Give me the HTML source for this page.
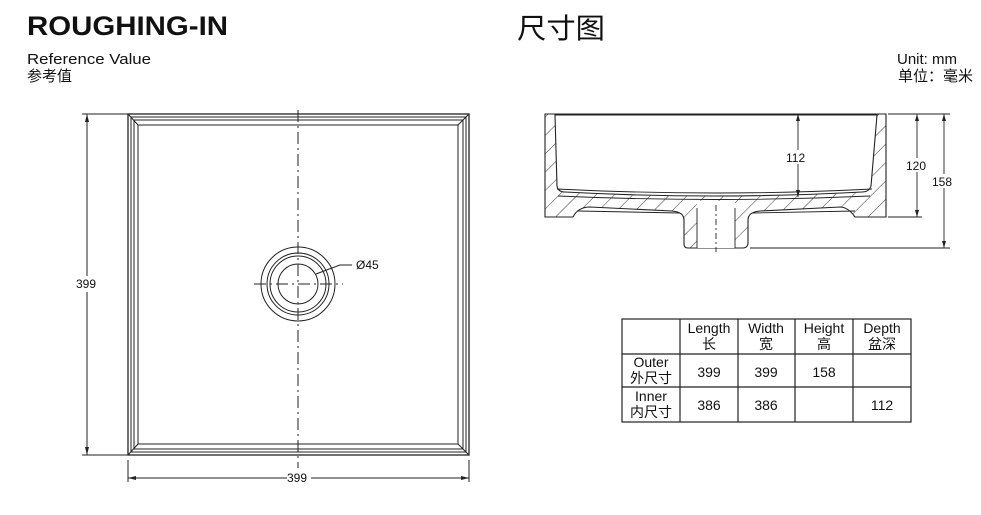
<!DOCTYPE html>
<html><head><meta charset="utf-8"><style>
body{margin:0;background:#fff}
svg{display:block}
text{font-family:"Liberation Sans","Noto Sans CJK SC",sans-serif;fill:#111}
</style></head><body>
<svg width="981" height="515" viewBox="0 0 981 515" xmlns="http://www.w3.org/2000/svg">
<defs>
<pattern id="h" width="13" height="13" patternUnits="userSpaceOnUse" patternTransform="rotate(45)">
<rect width="13" height="13" fill="#fff"/><line x1="0" y1="0" x2="0" y2="13" stroke="#222" stroke-width="0.9"/>
</pattern>
</defs>
<text x="27" y="35" font-size="27" font-weight="bold" textLength="201" lengthAdjust="spacingAndGlyphs">ROUGHING-IN</text>
<text x="517" y="38" font-size="28" textLength="88" lengthAdjust="spacingAndGlyphs">尺寸图</text>
<text x="27" y="64" font-size="15" textLength="124" lengthAdjust="spacingAndGlyphs">Reference Value</text>
<text x="27" y="81" font-size="15">参考值</text>
<text x="957" y="64" font-size="15" text-anchor="end">Unit: mm</text>
<text x="973" y="81" font-size="15" text-anchor="end">单位：毫米</text>

<g fill="none" stroke="#222" stroke-width="1">
<rect x="128" y="114" width="341" height="341" stroke-width="1.3"/>
<rect x="131" y="117" width="335" height="335"/>
<rect x="134" y="120" width="329" height="329"/>
<rect x="138" y="125" width="320" height="319"/>
<line x1="128" y1="114" x2="138" y2="125"/><line x1="469" y1="114" x2="458" y2="125"/>
<line x1="128" y1="455" x2="138" y2="444"/><line x1="469" y1="455" x2="458" y2="444"/>
<circle cx="298" cy="284" r="37"/><circle cx="298" cy="284" r="31"/><circle cx="298" cy="284" r="28"/><circle cx="298" cy="284" r="20"/>
<line x1="298" y1="110" x2="298" y2="468" stroke-dasharray="12,4,2,4"/>
<line x1="254" y1="284" x2="343" y2="284" stroke-dasharray="12,4,2,4"/>
<path d="M316 274 L340 265 L352 265"/>
<line x1="87" y1="114" x2="87" y2="455"/>
<line x1="82" y1="114" x2="128" y2="114"/><line x1="82" y1="455" x2="128" y2="455"/>
<line x1="128" y1="460" x2="128" y2="482"/><line x1="469" y1="460" x2="469" y2="482"/>
<line x1="128" y1="478" x2="287" y2="478"/><line x1="311" y1="478" x2="469" y2="478"/>
</g>
<g fill="#222">
<path d="M87 114 l-2 8 h4z"/><path d="M87 455 l-2 -8 h4z"/>
<path d="M128 478 l8 -2 v4z"/><path d="M469 478 l-8 -2 v4z"/>
</g>
<rect x="76" y="276" width="24" height="16" fill="#fff"/>
<text x="76" y="288" font-size="12">399</text>
<text x="287" y="482" font-size="12">399</text>
<text x="356" y="269" font-size="12">Ø45</text>

<g stroke="#222" stroke-width="1.1">
<path d="M545 114 L886 114 L886 217 L855 217 Q848 207 840 207 L760 211 Q748 212 748 220 L748 244 Q747 248 743 248 L688 248 Q684 248 684 244 L684 220 Q684 212 672 211 L590 207 Q578 207 573 217 L545 217 Z" fill="url(#h)"/>
<path d="M555 115 L877 115 L871 186 Q869 192 862 192 Q715 200 565 192 Q558 192 557 186 Z" fill="#fff"/>
<rect x="697" y="201" width="38" height="47" fill="#fff" stroke="none"/>
</g>
<g fill="none" stroke="#222" stroke-width="0.9">
<line x1="697" y1="208" x2="697" y2="248"/><line x1="735" y1="208" x2="735" y2="248"/>
<path d="M557 189 Q715 197 872 189"/>
<path d="M558 196 Q715 203 870 196"/>
<line x1="578" y1="211" x2="680" y2="213"/><line x1="752" y1="213" x2="855" y2="211"/>
<line x1="716" y1="205" x2="716" y2="252" stroke-dasharray="6,3,2,3"/>
<line x1="798" y1="114" x2="798" y2="197"/>
<line x1="888" y1="114" x2="950" y2="114"/><line x1="888" y1="217" x2="922" y2="217"/><line x1="750" y1="248" x2="950" y2="248"/>
<line x1="917" y1="114" x2="917" y2="217"/><line x1="944" y1="114" x2="944" y2="248"/>
</g>
<g fill="#222">
<path d="M798 114 l-2 7 h4z"/><path d="M798 197 l-2 -7 h4z"/>
<path d="M917 114 l-2 7 h4z"/><path d="M917 217 l-2 -7 h4z"/>
<path d="M944 114 l-2 7 h4z"/><path d="M944 248 l-2 -7 h4z"/>
</g>
<rect x="785" y="150" width="24" height="14" fill="#fff"/>
<text x="786" y="162" font-size="12">112</text>
<rect x="905" y="158" width="24" height="14" fill="#fff"/>
<text x="906" y="170" font-size="12">120</text>
<rect x="932" y="174" width="24" height="14" fill="#fff"/>
<text x="932" y="186" font-size="12">158</text>

<g fill="none" stroke="#222" stroke-width="1.2">
<rect x="622" y="319" width="289" height="103"/>
<line x1="680" y1="319" x2="680" y2="422"/><line x1="738" y1="319" x2="738" y2="422"/>
<line x1="795" y1="319" x2="795" y2="422"/><line x1="853" y1="319" x2="853" y2="422"/>
<line x1="622" y1="354" x2="911" y2="354"/><line x1="622" y1="387" x2="911" y2="387"/>
</g>
<g font-size="14" text-anchor="middle">
<text x="709" y="333">Length</text><text x="709" y="349">长</text>
<text x="766" y="333">Width</text><text x="766" y="349">宽</text>
<text x="824" y="333">Height</text><text x="824" y="349">高</text>
<text x="882" y="333">Depth</text><text x="882" y="349">盆深</text>
<text x="651" y="367">Outer</text><text x="651" y="383">外尺寸</text>
<text x="651" y="401">Inner</text><text x="651" y="417">内尺寸</text>
<text x="709" y="377">399</text><text x="766" y="377">399</text><text x="824" y="377">158</text>
<text x="709" y="410">386</text><text x="766" y="410">386</text><text x="882" y="410">112</text>
</g>
</svg>
</body></html>
